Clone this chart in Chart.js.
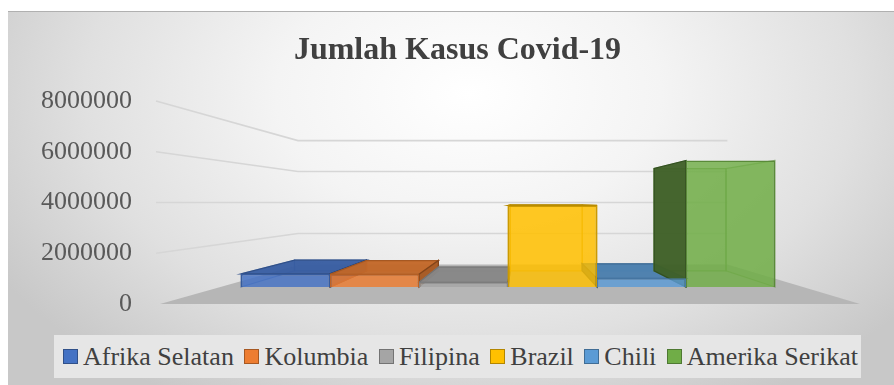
<!DOCTYPE html>
<html>
<head>
<meta charset="utf-8">
<script src="https://cdn.jsdelivr.net/npm/chart.js@4.4.1/dist/chart.umd.min.js"></script>
<style>
  html, body { margin: 0; padding: 0; background: #fff; }
  #kotak {
    position: absolute; left: 8px; top: 11px; width: 886px; height: 374px;
    background: radial-gradient(ellipse 62% 95% at 52% 22%, #ffffff 0%, #f4f4f4 35%, #e0e0e0 70%, #c8c8c8 100%);
    box-shadow: inset 0 1px 0 #b0b0b0;
  }
  #kotak canvas { position: absolute; left: 0; top: 0; }
  #legenda {
    position: absolute; left: 46px; top: 324px; width: 807px; height: 43px;
    background: #e6e6e6; display: flex; align-items: center; padding-left: 9px; box-sizing: border-box;
    font-family: "Liberation Serif", "Times New Roman", serif; font-size: 26px; color: #404040; white-space: nowrap;
  }
  #legenda .item { display: flex; align-items: center; margin-right: 10.5px; }
  #legenda .kotakwarna { width: 15px; height: 15px; box-sizing: border-box; border: 1.5px solid; margin-right: 5px; }
</style>
</head>
<body>
<div id="kotak">
  <canvas id="grafik" width="886" height="374"></canvas>
  <div id="legenda"></div>
</div>
<script>
  // data
  var kategori = ['Jumlah Kasus'];
  var negara = ['Afrika Selatan', 'Kolumbia', 'Filipina', 'Brazil', 'Chili', 'Amerika Serikat'];
  var kasus = [620000, 600000, 220000, 3860000, 410000, 5990000];
  var nilaiTick = [0, 2000000, 4000000, 6000000, 8000000];

  var warna = ['#4472C4', '#ED7D31', '#A5A5A5', '#FFC000', '#5B9BD5', '#70AD47'];

  // tampilan 3D (perkiraan dari gambar)
  var mataNilai = 4000000;   // tinggi mata, sejajar garis 4000000
  var mataX = 0.517;         // posisi titik hilang di area grafik
  var dalamBatang = 0.8325;  // bidang depan batang
  var tebalBatang = 0.808;   // belakang batang
  var dalamDinding = 0.61;   // dinding belakang

  function rgba(hex, a) {
    var n = parseInt(hex.slice(1), 16)
    return 'rgba(' + (n >> 16) + ',' + ((n >> 8) & 255) + ',' + (n & 255) + ',' + a + ')'
  }
  function gelap(hex, f, a) {
    var n = parseInt(hex.slice(1), 16)
    var r = Math.round((n >> 16) * f), g = Math.round(((n >> 8) & 255) * f), b = Math.round((n & 255) * f)
    return 'rgba(' + r + ',' + g + ',' + b + ',' + (a == null ? 1 : a) + ')'
  }

  var maxY = nilaiTick[nilaiTick.length - 1]
  var minY2 = mataNilai + (0 - mataNilai) / dalamBatang
  var maxY2 = mataNilai + (maxY - mataNilai) / dalamBatang

  function poligon(ctx, pts, isi, garis) {
    ctx.beginPath()
    ctx.moveTo(pts[0][0], pts[0][1])
    for (var i = 1; i < pts.length; i++) ctx.lineTo(pts[i][0], pts[i][1])
    ctx.closePath()
    if (isi) { ctx.fillStyle = isi; ctx.fill() }
    if (garis) { ctx.strokeStyle = garis; ctx.lineWidth = 1.2; ctx.stroke() }
  }

  const efek3D = {
    id: 'efek3D',
    beforeDatasetsDraw(chart) {
      const ctx = chart.ctx, a = chart.chartArea, sy = chart.scales.y
      const vx = a.left + a.width * mataX, vy = sy.getPixelForValue(mataNilai)
      const pr = (x, y, s) => [vx + s * (x - vx), vy + s * (y - vy)]
      ctx.save()

      // dinding kiri + belakang
      ctx.strokeStyle = '#d6d6d6'
      ctx.lineWidth = 1.6
      sy.ticks.forEach(t => {
        if (t.value <= 0) return
        const py = sy.getPixelForValue(t.value)
        const b = pr(a.left, py, dalamDinding)
        const c = pr(a.right, py, dalamDinding)
        ctx.beginPath()
        ctx.moveTo(a.left, py)
        ctx.lineTo(b[0], b[1])
        ctx.lineTo(c[0], c[1])
        ctx.stroke()
      })

      // lantai
      const y0 = sy.getPixelForValue(0)
      poligon(ctx, [[a.left + 4, y0], [a.right, y0], pr(a.right, y0, dalamDinding), pr(a.left + 4, y0, dalamDinding)], '#b6b6b6')

      // sisi batang
      chart.data.datasets.forEach((ds, i) => {
        const c = warna[i]
        chart.getDatasetMeta(i).data.forEach(bar => {
          const p = bar.getProps(['x', 'y', 'base', 'width'], true)
          const l = p.x - p.width / 2, r = p.x + p.width / 2
          const t = Math.min(p.y, p.base), bw = Math.max(p.y, p.base)
          const lt = pr(l, t, tebalBatang), rt = pr(r, t, tebalBatang)
          const lb = pr(l, bw, tebalBatang), rb = pr(r, bw, tebalBatang)
          // bagian dalam (terlihat tembus)
          poligon(ctx, [lt, rt, rb, lb], rgba(c, 0.25), gelap(c, 0.8, 0.7))
          poligon(ctx, [[r, t], rt, rb, [r, bw]], rgba(c, 0.2), gelap(c, 0.8, 0.6))
          poligon(ctx, [[l, t], lt, lb, [l, bw]], rgba(c, 0.2), gelap(c, 0.8, 0.6))
          // bagian luar yang terlihat
          if (t > vy) poligon(ctx, [[l, t], [r, t], rt, lt], gelap(c, 0.82, 0.95), gelap(c, 0.7))
          if (l > vx) poligon(ctx, [[l, t], lt, lb, [l, bw]], gelap(c, 0.55, 0.95), gelap(c, 0.45))
          if (r < vx) poligon(ctx, [[r, t], rt, rb, [r, bw]], gelap(c, 0.7, 0.95), gelap(c, 0.55))
        })
      })
      ctx.restore()
    }
  };

  const legendaHTML = {
    id: 'legendaHTML',
    afterUpdate(chart) {
      const box = document.getElementById('legenda')
      box.innerHTML = ''
      chart.data.datasets.forEach((ds, i) => {
        const item = document.createElement('div')
        item.className = 'item'
        const k = document.createElement('span')
        k.className = 'kotakwarna'
        k.style.background = warna[i]
        k.style.borderColor = gelap(warna[i], 0.7)
        const s = document.createElement('span')
        s.textContent = ds.label
        item.appendChild(k)
        item.appendChild(s)
        box.appendChild(item)
      })
    }
  };

  var datasets = negara.map(function (n, i) {
    return {
      label: n,
      data: [kasus[i]],
      yAxisID: 'y2',
      backgroundColor: rgba(warna[i], 0.82),
      borderColor: gelap(warna[i], 0.8),
      borderWidth: 1.5,
      categoryPercentage: 0.7585,
      barPercentage: 1
    }
  })

  new Chart(document.getElementById('grafik'), {
    type: 'bar',
    data: { labels: kategori, datasets: datasets },
    options: {
      responsive: false,
      animation: false,
      layout: { padding: { left: 13, right: 0, top: 0, bottom: 81 } },
      plugins: {
        legend: { display: false },
        tooltip: { enabled: false },
        title: {
          display: true,
          text: 'Jumlah Kasus Covid-19',
          color: '#404040',
          font: { family: 'Liberation Serif', size: 32, weight: 'bold' },
          padding: { top: 21, bottom: 30.6 }
        }
      },
      scales: {
        x: { display: false, offset: true },
        y: {
          position: 'left',
          min: 0,
          max: maxY,
          afterBuildTicks: s => { s.ticks = nilaiTick.map(v => ({ value: v })) },
          ticks: {
            padding: 24,
            color: '#595959',
            font: { family: 'Liberation Serif', size: 26 },
            callback: v => String(v)
          },
          grid: { display: false, drawTicks: false },
          border: { display: false },
          afterFit: s => { s.width = 135 }
        },
        y2: {
          position: 'right',
          min: minY2,
          max: maxY2,
          ticks: { display: false },
          grid: { display: false, drawTicks: false },
          border: { display: false },
          afterFit: s => { s.width = 34 }
        }
      }
    },
    plugins: [efek3D, legendaHTML]
  });
</script>
</body>
</html>
